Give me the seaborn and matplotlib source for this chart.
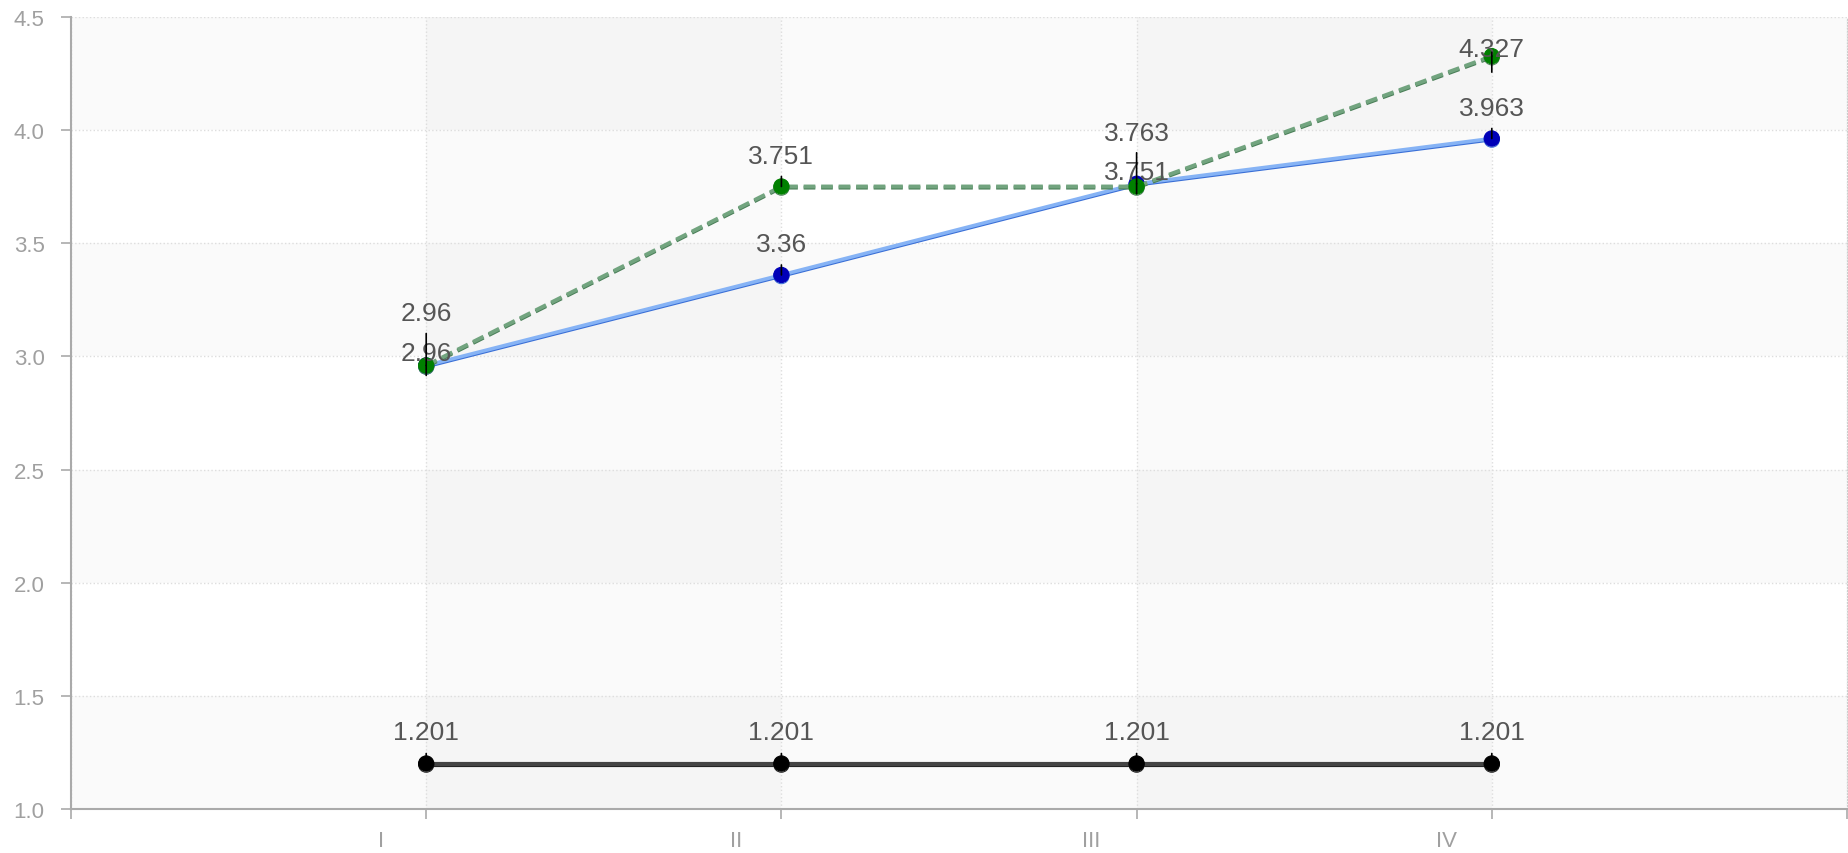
import numpy as np
import pandas as pd
import seaborn as sns
from matplotlib import pyplot as plt
from matplotlib import patheffects as pe
from matplotlib.transforms import ScaledTranslation

# data
categories = ['I', 'II', 'III', 'IV']
blue_vals = [2.96, 3.36, 3.763, 3.963]
green_vals = [2.96, 3.751, 3.751, 4.327]
black_vals = [1.201, 1.201, 1.201, 1.201]

# label offsets above the point (px) and leader extents (px below, px above)
blue_lbl_off = [52, 31, 51, 31]
green_lbl_off = [12, 30, 14, 7]
black_lbl_off = [32, 32, 32, 32]
blue_leader = [(10, 32), (0, 10), (10, 31), (0, 10)]
green_leader = [(0, 0), (0, 10), (0, 0), (16, 4)]
black_leader = [(0, 10), (0, 10), (0, 10), (0, 10)]

sns.set_style('white')
plt.rcParams['font.family'] = ['Liberation Sans', 'DejaVu Sans']

DPI = 100
fig = plt.figure(figsize=(18.49, 8.54), dpi=DPI)
ax = fig.add_axes([71 / 1849, 1 - 810 / 854, 1776 / 1849, 792 / 854])

# background bands
for y0 in [1.0, 2.0, 3.0, 4.0]:
    ax.axhspan(y0, y0 + 0.5, color='#fafafa', lw=0, zorder=0)
for x0 in [0, 2]:
    ax.axvspan(x0, x0 + 1, color='black', alpha=0.02, lw=0, zorder=0)

shadow = lambda c: [pe.SimpleLineShadow(offset=(0, -0.8), shadow_color=c, alpha=1), pe.Normal()]

df_black = pd.DataFrame({'cat': categories, 'val': black_vals})
df_blue = pd.DataFrame({'cat': categories, 'val': blue_vals})
df_green = pd.DataFrame({'cat': categories, 'val': green_vals})

sns.lineplot(data=df_black, x='cat', y='val', ax=ax, color='#444444', lw=3,
             marker='o', markersize=11, markerfacecolor='black', markeredgecolor='black',
             path_effects=shadow('#222222'), zorder=3)
sns.lineplot(data=df_blue, x='cat', y='val', ax=ax, color='#86b3f5', lw=2.6,
             marker='o', markersize=11, markerfacecolor='#0000b8', markeredgecolor='#0000b8',
             path_effects=shadow('#3a6fd6'), zorder=4)
sns.lineplot(data=df_green, x='cat', y='val', ax=ax, color='#72a47f', lw=2.8,
             marker='o', markersize=11, markerfacecolor='#008000', markeredgecolor='#008000',
             linestyle=(0, (3, 1.5)), path_effects=shadow('#4a7f58'), zorder=5)

px = 72 / DPI
for vals, offs, leads in [(blue_vals, blue_lbl_off, blue_leader),
                          (green_vals, green_lbl_off, green_leader),
                          (black_vals, black_lbl_off, black_leader)]:
    for i, v in enumerate(vals):
        ax.annotate(f'{v:g}', (i, v), xytext=(0, offs[i] * px), textcoords='offset points',
                    ha='center', va='center', fontsize=19, color='#555555', zorder=7)
        dn, up = leads[i]
        if dn or up:
            ax.annotate('', (i, v), xytext=(0, up * px), textcoords='offset points',
                        arrowprops=dict(arrowstyle='-', color='black', lw=1.2,
                                        shrinkA=0, shrinkB=0),
                        zorder=8)
            if dn:
                ax.annotate('', (i, v), xytext=(0, -dn * px), textcoords='offset points',
                            arrowprops=dict(arrowstyle='-', color='black', lw=1.2,
                                            shrinkA=0, shrinkB=0),
                            zorder=8)

ax.set_xlim(-1, 4)
ax.set_ylim(1.0, 4.5)
ax.set_xticks([-1, 0, 1, 2, 3, 4])
ax.set_xticklabels([''] + categories + [''])
ax.set_yticks(np.arange(1.0, 4.51, 0.5))
ax.set_yticklabels([f'{t:.1f}' for t in np.arange(1.0, 4.51, 0.5)])
ax.set_xlabel('')
ax.set_ylabel('')

ax.grid(True, color='#dddddd', linestyle=':', lw=1)
ax.set_axisbelow(True)
for s in ['left', 'bottom']:
    ax.spines[s].set_color('#aaaaaa')
    ax.spines[s].set_linewidth(1.5)
ax.spines['top'].set_visible(False)
ax.spines['right'].set_color('#cccccc')
ax.spines['right'].set_linestyle(':')

ax.tick_params(axis='both', colors='#aaaaaa', labelcolor='#a0a0a0', length=7, width=1.2,
               labelsize=16, direction='out')
ax.tick_params(axis='x', pad=8)
ax.tick_params(axis='y', pad=12)
ax.tick_params(bottom=True, left=True)

shift = ScaledTranslation(-45 / DPI, 0, fig.dpi_scale_trans)
for lab in ax.get_xticklabels():
    lab.set_transform(lab.get_transform() + shift)

plt.savefig('out.png', dpi=DPI)
